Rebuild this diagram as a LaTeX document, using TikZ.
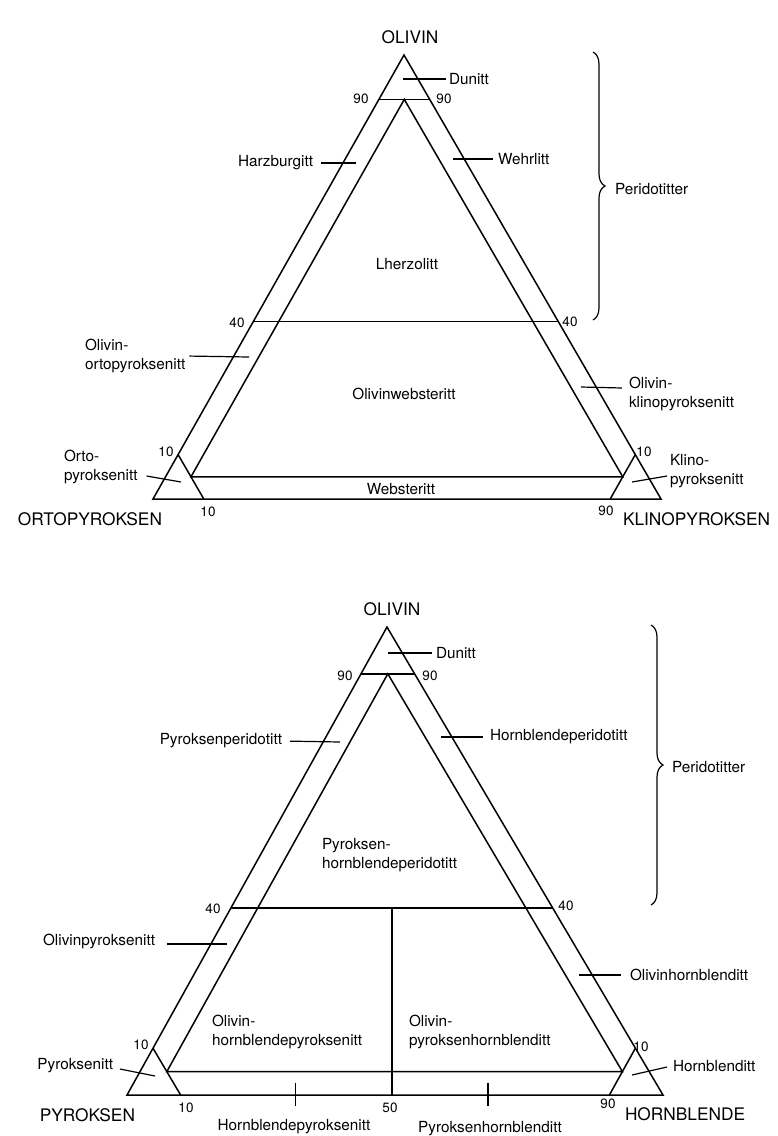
\documentclass[tikz,border=0pt]{standalone}
\usepackage{fontspec}
\setmainfont{TeX Gyre Heros}
\usetikzlibrary{calc,decorations.pathreplacing}
\newcommand{\lblfont}{\fontsize{15.3}{19}\selectfont}
\newcommand{\numfont}{\fontsize{13.5}{16}\selectfont}
\newcommand{\capfont}{\fontsize{17.3}{20}\selectfont}

\begin{document}
\begin{tikzpicture}[x=1pt, y=-1pt,
  every node/.style={font=\lblfont, inner sep=0pt, outer sep=0pt},
  tri/.style ={line width=1.5pt},
  lead/.style={line width=1.2pt},
  num/.style ={font=\numfont},
  corner/.style={font=\capfont},
  field/.style={align=left},
  brc/.style ={line width=1.2pt, decorate, decoration={brace, amplitude=12pt}}]

\useasboundingbox (0,0) rectangle (777,1136);

%% upper diagram: olivin / ortopyroksen / klinopyroksen
\coordinate (ol1)  at (404,55);
\coordinate (opx1) at (153,499);
\coordinate (cpx1) at (661,499);

\draw[tri] (ol1) -- (opx1) -- (cpx1) -- cycle;
\draw[tri] (barycentric cs:ol1=.9,opx1=.1) -- (barycentric cs:ol1=.9,cpx1=.1);
\draw[tri] (barycentric cs:ol1=.4,opx1=.6) -- (barycentric cs:ol1=.4,cpx1=.6);
\draw[tri] (barycentric cs:ol1=.1,opx1=.9) -- (barycentric cs:opx1=.9,cpx1=.1);
\draw[tri] (barycentric cs:ol1=.1,cpx1=.9) -- (barycentric cs:opx1=.1,cpx1=.9);
\draw[tri] (barycentric cs:ol1=.9,opx1=.05,cpx1=.05)
        -- (barycentric cs:ol1=.05,opx1=.9,cpx1=.05)
        -- (barycentric cs:ol1=.05,opx1=.05,cpx1=.9) -- cycle;

\node[corner] (olT) at (410,37) {OLIVIN};
\node[corner, anchor=east] (opxT) at (162,519) {ORTOPYROKSEN};
\node[corner, anchor=west] (cpxT) at (623,519) {KLINOPYROKSEN};

\node[num] at (361,99)  {90};
\node[num] at (444,99)  {90};
\node[num] at (237,323) {40};
\node[num] at (570,322) {40};
\node[num] at (166,452) {10};
\node[num] at (644,452) {10};
\node[num] at (208,512) {10};
\node[num] at (606,511) {90};

\node[anchor=west] (dun1) at (449,79) {Dunitt};
\node[anchor=east] (harz) at (313,163) {Harzburgitt};
\node[anchor=west] (wehr) at (498,159) {Wehrlitt};
\node (lherz) at (407,264) {Lherzolitt};
\node[field, anchor=west] (olopx) at (85,356) {Olivin-\\ortopyroksenitt};
\node (olws) at (404,394) {Olivinwebsteritt};
\node[field, anchor=west] (olcpx) at (629,394) {Olivin-\\klinopyroksenitt};
\node[field, anchor=west] (orto) at (64,467) {Orto-\\pyroksenitt};
\node[field, anchor=west] (klino) at (670,471) {Klino-\\pyroksenitt};
\node (webs) at (401,489) {Websteritt};

\coordinate (dunP1)  at (403,79);
\coordinate (harzP)  at (356,163);
\coordinate (wehrP)  at (453,159);
\coordinate (olopxP) at (249,357);
\coordinate (olcpxP) at (581,387);
\coordinate (ortoP)  at (181,482);
\coordinate (klinoP) at (632,482);

\draw[lead, shorten >=3pt] (dunP1)  -- (dun1.west);
\draw[lead, shorten >=8pt] (harzP)  -- (harz.east);
\draw[lead, shorten >=5pt] (wehrP)  -- (wehr.west);
\draw[lead, shorten >=4pt] (olopxP) -- (olopx.east);
\draw[lead] (olcpxP) -- ([xshift=-7pt,yshift=6pt]olcpx.west);
\draw[lead] (ortoP)  -- ([xshift=9pt,yshift=-9pt]orto.east);
\draw[lead] (klinoP) -- ([xshift=-3pt,yshift=-5pt]klino.west);

\coordinate (brT1) at (593,52);
\coordinate (brB1) at (593,320);
\draw[brc] (brT1) -- (brB1);
\node[anchor=west] (per1) at (615,189) {Peridotitter};

%% lower diagram: olivin / pyroksen / hornblende
\coordinate (ol2)  at (387,627);
\coordinate (px2)  at (127,1095);
\coordinate (hbl2) at (663,1095);

\draw[tri] (ol2) -- (px2) -- (hbl2) -- cycle;
\draw[tri] (barycentric cs:ol2=.9,px2=.1) -- (barycentric cs:ol2=.9,hbl2=.1);
\draw[tri] (barycentric cs:ol2=.4,px2=.6) -- (barycentric cs:ol2=.4,hbl2=.6);
\draw[tri] (barycentric cs:ol2=.1,px2=.9) -- (barycentric cs:px2=.9,hbl2=.1);
\draw[tri] (barycentric cs:ol2=.1,hbl2=.9) -- (barycentric cs:px2=.1,hbl2=.9);
\draw[tri] (barycentric cs:ol2=.9,px2=.05,hbl2=.05)
        -- (barycentric cs:ol2=.05,px2=.9,hbl2=.05)
        -- (barycentric cs:ol2=.05,px2=.05,hbl2=.9) -- cycle;
\coordinate (m40) at (barycentric cs:ol2=.4,px2=.3,hbl2=.3);
\draw[tri] (m40) -- (m40 |- px2);

\coordinate (tk1) at ($(px2)!.315!(hbl2)$);
\coordinate (tk2) at ($(px2)!.6735!(hbl2)$);
\draw[lead] ([yshift=12pt]tk1) -- ([yshift=-11pt]tk1);
\draw[lead] ([yshift=12pt]tk2) -- ([yshift=-11pt]tk2);

\node[corner] (olB) at (392,609) {OLIVIN};
\node[corner, anchor=east] (pxB) at (135,1115) {PYROKSEN};
\node[corner, anchor=west] (hblB) at (625,1114) {HORNBLENDE};

\node[num] at (345,676)  {90};
\node[num] at (430,676)  {90};
\node[num] at (213,909)  {40};
\node[num] at (566,906)  {40};
\node[num] at (141,1045) {10};
\node[num] at (641,1047) {10};
\node[num] at (186,1108) {10};
\node[num] at (390,1108) {50};
\node[num] at (608,1104) {90};

\node[anchor=west] (dun2) at (436,653) {Dunitt};
\node[anchor=east] (pxper) at (282,741) {Pyroksenperidotitt};
\node[anchor=west] (hblper) at (490,737) {Hornblendeperidotitt};
\node[field, anchor=west] (pxhbl) at (322,855) {Pyroksen-\\hornblendeperidotitt};
\node[anchor=east] (olpx) at (155,941) {Olivinpyroksenitt};
\node[anchor=west] (olhbl) at (630,975) {Olivinhornblenditt};
\node[field, anchor=west] (ohpx) at (212,1032) {Olivin-\\hornblendepyroksenitt};
\node[field, anchor=west] (ophb) at (409,1032) {Olivin-\\pyroksenhornblenditt};
\node[anchor=east] (pxt) at (113,1066) {Pyroksenitt};
\node[anchor=west] (hblt) at (673,1066) {Hornblenditt};
\node (hpx) at (294,1127) {Hornblendepyroksenitt};
\node (pxh) at (490,1129) {Pyroksenhornblenditt};

\coordinate (dunP2)  at (388,653);
\coordinate (pxperP) at (340,742);
\coordinate (hblperP) at (441,737);
\coordinate (olpxP)  at (227,944);
\coordinate (olhblP) at (579,975);
\coordinate (pxtP)   at (155,1076);
\coordinate (hbltP)  at (632,1075);

\draw[lead, shorten >=4pt] (dunP2)   -- (dun2.west);
\draw[lead, shorten >=8pt] (pxperP)  -- (pxper.east);
\draw[lead, shorten >=7pt] (hblperP) -- (hblper.west);
\draw[lead] (olpxP)  -- ([xshift=12pt,yshift=-3pt]olpx.east);
\draw[lead, shorten >=9pt] (olhblP)  -- (olhbl.west);
\draw[lead] (pxtP)   -- ([xshift=7pt,yshift=-3pt]pxt.east);
\draw[lead] (hbltP)  -- ([xshift=-6pt,yshift=-1pt]hblt.west);

\coordinate (brT2) at (651,625);
\coordinate (brB2) at (651,905);
\draw[brc] (brT2) -- (brB2);
\node[anchor=west] (per2) at (672,767) {Peridotitter};
\end{tikzpicture}
\end{document}
